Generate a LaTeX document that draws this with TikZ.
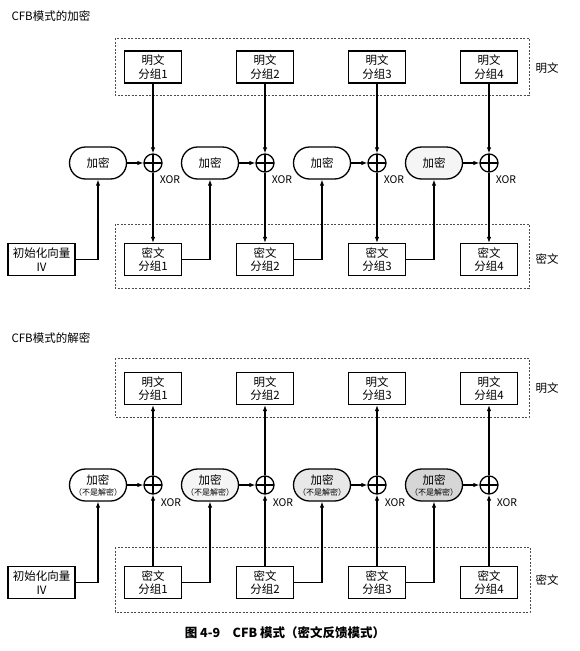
\documentclass[tikz,border=0pt]{standalone}
\usepackage{fontspec}
\setmainfont{Noto Sans CJK SC}
\usetikzlibrary{arrows.meta,calc}
\colorlet{shA}{white}
\colorlet{shB}{black!4}
\colorlet{shC}{black!9}
\colorlet{shD}{black!16}
\tikzset{
  blk/.style={draw, line width=1.3pt, minimum width=57pt, minimum height=32pt, align=center, inner sep=0pt, font=\fontsize{11.5}{13.5}\selectfont},
  encbox/.style={draw, line width=1.3pt, rounded corners=16pt, minimum width=57pt, minimum height=32pt, align=center, inner sep=0pt, font=\fontsize{11.5}{13}\selectfont},
  xorc/.style={draw, circle, line width=1.3pt, minimum size=18pt, inner sep=0pt,
    path picture={\draw[line width=1.3pt] (path picture bounding box.north) -- (path picture bounding box.south) (path picture bounding box.west) -- (path picture bounding box.east);}},
  arr/.style={line width=1.1pt, -{Latex[length=6pt,width=4.5pt]}},
  grp/.style={draw=black!70, line width=0.6pt, dash pattern=on 2pt off 1.5pt},
  lbl/.style={font=\fontsize{11.5}{13}\selectfont},
  xlbl/.style={font=\fontsize{10.5}{12}\selectfont, inner sep=0pt}
}
\begin{document}
\begin{tikzpicture}[x=1pt,y=-1pt]
\useasboundingbox (0,0) rectangle (580,651);
% ---------------- Encryption ----------------
\node[lbl, anchor=west] (title1) at (8,16) {CFB模式的加密};
\draw[grp] (115,38) rectangle (529,95);
\draw[grp] (115,224) rectangle (529,288);
\node[lbl] (lp1) at (547,68) {明文};
\node[lbl] (lc1) at (547,259) {密文};
\node[blk, minimum width=67pt] (tiv) at (41.5,259.5) {初始化向量\\IV};
\foreach \i/\x/\e/\s in {1/153/98/white, 2/265/210/white, 3/377/322/white, 4/489/434/black!4} {
  \node[blk] (tp\i) at (\x,67) {明文\\分组\i};
  \node[blk] (tc\i) at (\x,259.5) {密文\\分组\i};
  \node[encbox, fill=\s] (te\i) at (\e,163) {加密};
  \node[xorc] (tx\i) at (\x,163) {};
  \node[xlbl] (txl\i) at (\x+17,180) {XOR};
  \draw[arr] (tp\i.south) -- (tx\i.north);
  \draw[arr] (tx\i.south) -- (tc\i.north);
  \draw[arr] (te\i.east) -- (tx\i.west);
}
\draw[arr] (tiv.east) -| (te1.south);
\foreach \i/\j in {1/2,2/3,3/4} \draw[arr] (tc\i.east) -| (te\j.south);
% ---------------- Decryption ----------------
\node[lbl, anchor=west] (title2) at (8,338) {CFB模式的解密};
\draw[grp] (115,358) rectangle (529,417);
\draw[grp] (115,547) rectangle (530,612);
\node[lbl] (lp2) at (547,388) {明文};
\node[lbl] (lc2) at (547,580) {密文};
\node[blk, minimum width=67pt] (biv) at (41.5,582.5) {初始化向量\\IV};
\foreach \i/\x/\e/\s in {1/153/98/shA, 2/265/210/shB, 3/377/322/shC, 4/489/434/shD} {
  \node[blk] (bp\i) at (\x,388.5) {明文\\分组\i};
  \node[blk] (bc\i) at (\x,582.5) {密文\\分组\i};
  \node[encbox, fill=\s] (be\i) at (\e,485) {加密\\[-2pt]{\fontsize{8}{8.5}\selectfont （不是解密）}};
  \node[xorc] (bx\i) at (\x,485) {};
  \node[xlbl] (bxl\i) at (\x+18,503) {XOR};
  \draw[arr] (bc\i.north) -- (bx\i.south);
  \draw[arr] (bx\i.north) -- (bp\i.south);
  \draw[arr] (be\i.east) -- (bx\i.west);
}
\draw[arr] (biv.east) -| (be1.south);
\foreach \i/\j in {1/2,2/3,3/4} \draw[arr] (bc\i.east) -| (be\j.south);
\node[font=\bfseries\fontsize{12.5}{14}\selectfont] (cap) at (285,633) {图 4-9\quad CFB 模式（密文反馈模式）};
\end{tikzpicture}
\end{document}
